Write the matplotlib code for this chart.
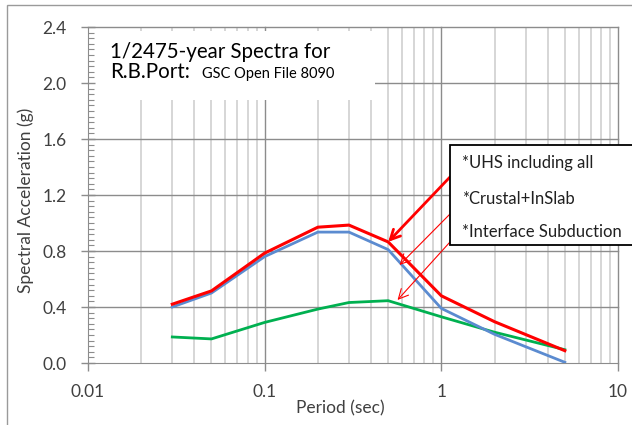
import numpy as np
import matplotlib.pyplot as plt
from matplotlib.patches import Rectangle
from matplotlib.ticker import FixedLocator, NullFormatter

plt.rcParams['font.family'] = ['Lato', 'DejaVu Sans']

# spectra (period in sec, SA in g)
period = [0.03, 0.05, 0.1, 0.2, 0.3, 0.5, 1.0, 2.0, 5.0]
uhs_all = [0.42, 0.515, 0.785, 0.97, 0.985, 0.865, 0.48, 0.295, 0.088]
crustal_inslab = [0.40, 0.50, 0.76, 0.935, 0.935, 0.81, 0.39, 0.205, 0.005]
interface_sub = [0.186, 0.172, 0.29, 0.385, 0.432, 0.445, 0.33, 0.22, 0.095]

legend_labels = ['*UHS including all', '*Crustal+InSlab', '*Interface Subduction']
y_ticks = [0.0, 0.4, 0.8, 1.2, 1.6, 2.0, 2.4]
x_ticks = [0.01, 0.1, 1, 10]
x_tick_labels = ['0.01', '0.1', '1', '10']

W, H = 632, 425
fig = plt.figure(figsize=(W / 100, H / 100), dpi=100)
ax = fig.add_axes([88 / W, 62 / H, 530 / W, 336 / H])

ax.set_xscale('log')
ax.set_xlim(0.01, 10)
ax.set_ylim(0, 2.4)

# grid drawn by hand so the title box can sit between grid and ticks
minor_x = [m * 10.0 ** d for d in (-2, -1, 0) for m in range(2, 10)]
for x in minor_x:
    ax.axvline(x, color='#cfcfcf', lw=1.2, zorder=0.5)
for x in x_ticks[1:]:
    ax.axvline(x, color='#8c8c8c', lw=1.0, zorder=0.6, clip_on=False)
for y in y_ticks[1:]:
    ax.axhline(y, color='#8c8c8c', lw=1.0, zorder=0.6, clip_on=False)

# white box behind the title text
title_box = Rectangle((89 / W, (H - 100) / H), (375 - 89) / W, 69 / H,
                      transform=fig.transFigure, facecolor='white', edgecolor='none',
                      zorder=1)
ax.add_patch(title_box)
title_box.set_clip_on(False)

ax.plot(period, interface_sub, color='#00b050', lw=2.0, zorder=3)
ax.plot(period, crustal_inslab, color='#5b8bd0', lw=2.0, zorder=3)
ax.plot(period, uhs_all, color='#ff0000', lw=2.2, zorder=4)

ax.set_yticks(y_ticks)
ax.set_yticklabels([f'{v:.1f}' for v in y_ticks])
ax.yaxis.set_minor_locator(FixedLocator(np.arange(0, 2.41, 0.04)))
ax.set_xticks(x_ticks)
ax.set_xticklabels(x_tick_labels)
ax.xaxis.set_minor_locator(FixedLocator([]))
ax.xaxis.set_minor_formatter(NullFormatter())
ax.tick_params(axis='both', which='major', direction='out', length=6, width=1,
               color='#8c8c8c', labelsize=12.5, labelcolor='#404040')
ax.tick_params(axis='y', which='minor', direction='in', length=4, width=0.8, color='#8c8c8c')
ax.tick_params(axis='y', which='major', direction='inout', length=10, pad=10.5)
ax.tick_params(axis='x', which='major', pad=9)

for s in ['top', 'right']:
    ax.spines[s].set_visible(False)
for s in ['left', 'bottom']:
    ax.spines[s].set_color('#8c8c8c')

ax.set_xlabel('Period (sec)', fontsize=12.5, color='#404040')
ax.xaxis.set_label_coords((340 - 88) / 530, -(413 - 363) / 336, transform=ax.transAxes)
ax.xaxis.label.set_va('baseline')
ax.set_ylabel('Spectral Acceleration (g)', fontsize=12.5, color='#404040')
ax.yaxis.set_label_coords(-(88 - 34) / 530, (363 - 200) / 336)

fig.text(110 / W, (H - 58) / H, '1/2475-year Spectra for', fontsize=14.8, color='black')
fig.text(110 / W, (H - 78) / H, 'R.B.Port:', fontsize=14.8, color='black')
fig.text(202 / W, (H - 78) / H, 'GSC Open File 8090', fontsize=10.5, color='black')

# legend box with arrows
fig.patches.append(Rectangle((450 / W, (H - 245) / H), 200 / W, 100 / H,
                             transform=fig.transFigure, facecolor='white',
                             edgecolor='black', lw=1.3, zorder=5))
for lab, ty in zip(legend_labels, [163, 199, 232]):
    fig.text(462 / W, (H - ty) / H, lab, fontsize=12, color='#202020', va='center', zorder=6)

arrow_tips = [(0.5, 0.865), (0.58, 0.70), (0.565, 0.45)]
arrow_tails = [177, 214, 242]
arrow_w = [2.0, 0.8, 0.8]
for (tx, ty), tail, lw in zip(arrow_tips, arrow_tails, arrow_w):
    ax.annotate('', xy=(tx, ty), xycoords='data',
                xytext=(450 / W, (H - tail) / H), textcoords='figure fraction',
                arrowprops=dict(arrowstyle='->,head_length=0.7,head_width=0.35',
                                color='#ff0000', lw=lw, shrinkA=0, shrinkB=0),
                zorder=5)

# outer chart border
fig.patches.append(Rectangle((7 / W, -0.1), 1.2, (H - 5) / H + 0.1,
                             transform=fig.transFigure, fill=False,
                             edgecolor='#9a9a9a', lw=1.0))

fig.savefig('out.png', dpi=100)
